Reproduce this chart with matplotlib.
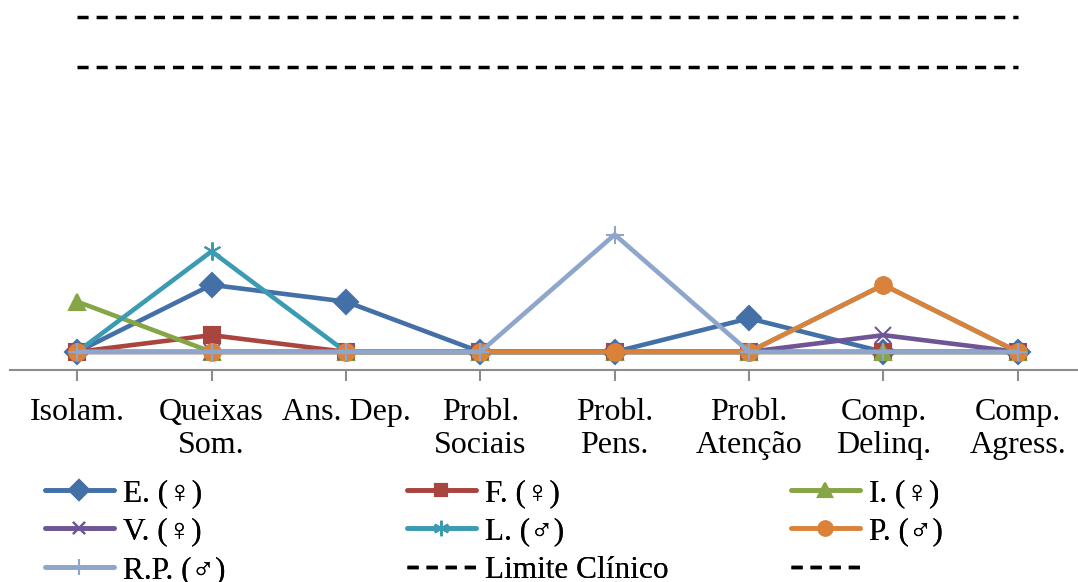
import matplotlib.pyplot as plt

plt.rcParams['font.family'] = ['Liberation Serif', 'DejaVu Serif', 'DejaVu Sans']

categories = ['Isolam.', 'Queixas\nSom.', 'Ans. Dep.', 'Probl.\nSociais',
              'Probl.\nPens.', 'Probl.\nAtenção', 'Comp.\nDelinq.', 'Comp.\nAgress.']

e_vals = [50, 54, 53, 50, 50, 52, 50, 50]
f_vals = [50, 51, 50, 50, 50, 50, 50, 50]
i_vals = [53, 50, 50, 50, 50, 50, 50, 50]
v_vals = [50, 50, 50, 50, 50, 50, 51, 50]
l_vals = [50, 56, 50, 50, 50, 50, 54, 50]
p_vals = [50, 50, 50, 50, 50, 50, 54, 50]
rp_vals = [50, 50, 50, 50, 57, 50, 50, 50]
limite_clinico = [70] * 8
limite_2 = [67] * 8

series = [
    ('E. (♀)', e_vals, '#4470a8', 'D', 12),
    ('F. (♀)', f_vals, '#a9443f', 's', 11),
    ('I. (♀)', i_vals, '#86a544', '^', 12),
    ('V. (♀)', v_vals, '#6e5596', 'x', 11),
    ('L. (♂)', l_vals, '#3a9bb2', (6, 2, 0), 13),
    ('P. (♂)', p_vals, '#db823a', 'o', 12),
    ('R.P. (♂)', rp_vals, '#8ea6cb', '+', 13),
]

fig = plt.figure(figsize=(10.78, 5.82), dpi=100)
ax = fig.add_axes([10 / 1078, 212 / 582, 1075 / 1078, 370 / 582])

x = list(range(len(categories)))
handles = {}
for name, vals, col, mk, ms in series:
    h, = ax.plot(x, vals, color=col, lw=3.3, marker=mk, markersize=ms,
                 markeredgecolor=col, markeredgewidth=1.5,
                 solid_capstyle='round', label=name)
    handles[name] = h

dash = (0, (3.2, 2.3))
h1, = ax.plot(x, limite_clinico, color='black', lw=2.5, ls=dash, label='Limite Clínico')
h2, = ax.plot(x, limite_2, color='black', lw=2.5, ls=dash, label=' ')

ax.set_xlim(-0.5, 7.5)
ax.set_ylim(48.92, 71)
ax.set_xticks(x)
ax.set_xticklabels(categories, fontsize=23, linespacing=1.2)
ax.set_yticks([])
for s in ['top', 'right', 'left']:
    ax.spines[s].set_visible(False)
ax.spines['bottom'].set_color('#8c8c8c')
ax.spines['bottom'].set_linewidth(1.5)
ax.tick_params(axis='x', length=8, width=1.5, color='#8c8c8c', pad=12)

# three one-column legends, Excel places columns unevenly
columns = [
    (45, [handles['E. (♀)'], handles['V. (♀)'], handles['R.P. (♂)']]),
    (407, [handles['F. (♀)'], handles['L. (♂)'], h1]),
    (791, [handles['I. (♀)'], handles['P. (♂)'], h2]),
]
for xpos, hs in columns:
    leg = fig.legend(hs, [h.get_label() for h in hs], loc='upper left',
                     bbox_to_anchor=(xpos / 1078, 1 - 479 / 582),
                     frameon=False, fontsize=22.5, handlelength=2.2, handletextpad=0.3,
                     labelspacing=0.3, borderaxespad=0, borderpad=0, markerscale=0.85)
    fig.add_artist(leg)

fig.savefig('out.png', dpi=100)
